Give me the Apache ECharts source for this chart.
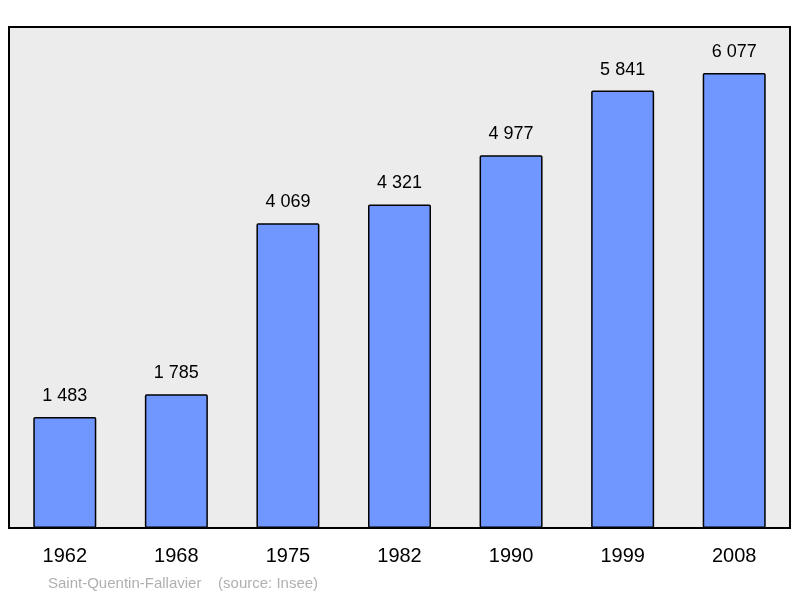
<!DOCTYPE html>
<html><head><meta charset="utf-8">
<script src="https://cdn.jsdelivr.net/npm/echarts@6/dist/echarts.min.js"></script>
<style>html,body{margin:0;padding:0;background:#fff}#c{width:800px;height:598px}</style>
</head><body><div id="c"></div>
<script>
const categories = ['1962','1968','1975','1982','1990','1999','2008'];
const population = [1483,1785,4069,4321,4977,5841,6077];
const fmt = v => String(v).replace(/\B(?=(\d{3})+(?!\d))/g, ' ');
const chart = echarts.init(document.getElementById('c'));
chart.setOption({
  animation:false,
  textStyle:{fontFamily:'Liberation Sans, Arial, sans-serif'},
  grid:{left:9,right:10,top:27,bottom:70,show:true,backgroundColor:'#ececec',borderColor:'#000',borderWidth:2},
  graphic:[{type:'text',left:48,top:576,style:{text:'Saint-Quentin-Fallavier    (source: Insee)',fill:'#b0b0b0',font:'15px Liberation Sans, Arial, sans-serif'}}],
  xAxis:{type:'category',data:categories,axisLine:{show:false},axisTick:{show:false},
    axisLabel:{color:'#000',fontSize:20,margin:18}},
  yAxis:{type:'value',min:0,max:6690,show:false,splitLine:{show:false}},
  series:[{type:'bar',data:population,barWidth:63,
    itemStyle:{color:'#7097ff',borderColor:'#000',borderWidth:1.5,borderRadius:1},
    label:{show:true,position:'top',distance:12,color:'#000',fontSize:18,formatter:p=>fmt(p.value)}}]
});
</script></body></html>
